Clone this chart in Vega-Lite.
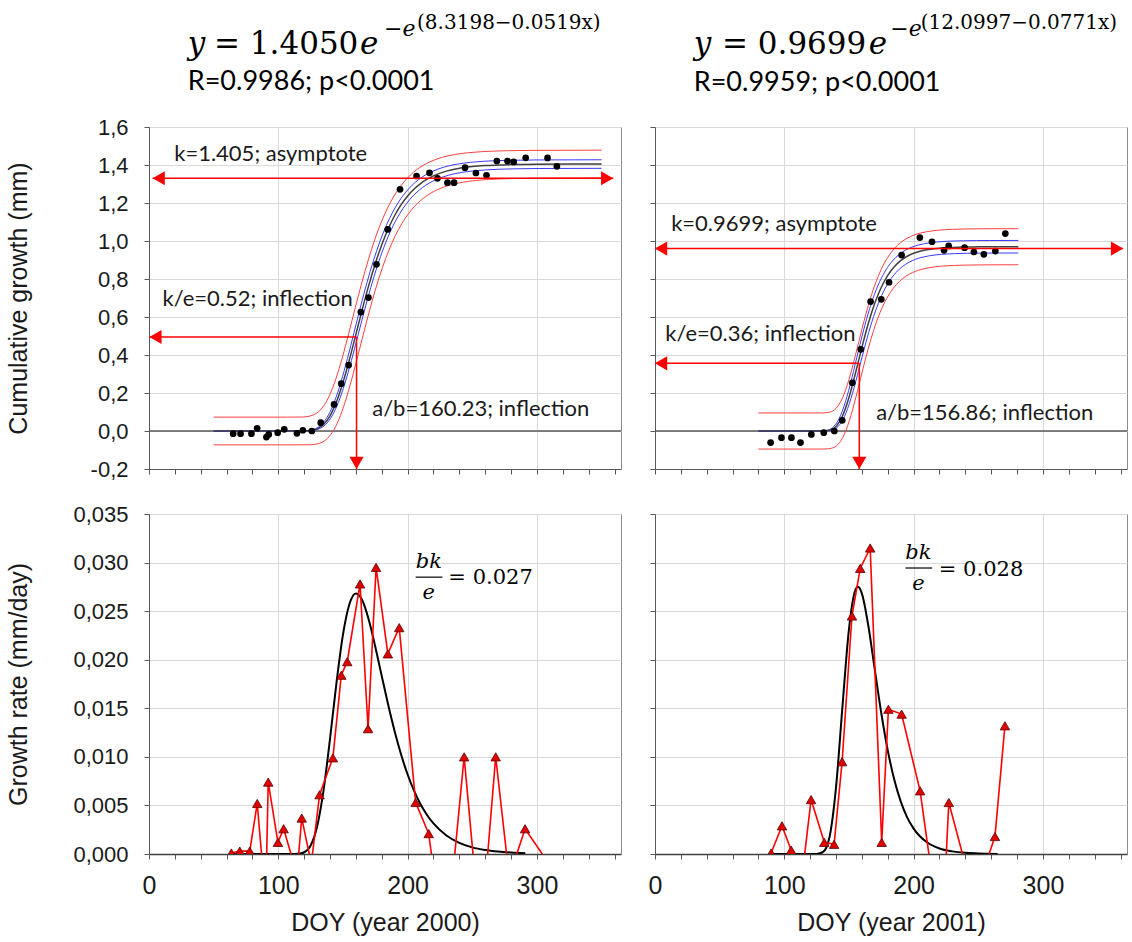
{
"$schema":"https://vega.github.io/schema/vega-lite/v6.json",
"padding":{"left":5,"top":12,"right":0,"bottom":0},
"background":"white",
"columns":2,
"spacing":{"row":45,"column":34},
"bounds":"flush",
"config":{
 "view":{"stroke":"#8c8c8c","strokeWidth":1},
 "axis":{"domainColor":"#595959","tickColor":"#595959","gridColor":"#d9d9d9","gridWidth":1,"labelFont":"Liberation Sans","titleFont":"Liberation Sans","labelColor":"#1a1a1a","titleColor":"#1a1a1a","titleFontWeight":"normal","labelFontSize":22,"titleFontSize":25,"tickSize":5,"labelOverlap":false,"labelFlush":false},
 "text":{"font":"Lato","color":"#1a1a1a"}
},
"datasets":{
 "zero":[{"x":0,"x2":365,"y":0,"y2":0}],
 "cum2000":[{"x":65.1,"y":-0.014},{"x":70.8,"y":-0.014},{"x":79.2,"y":-0.014},{"x":83.6,"y":0.014},{"x":90.8,"y":-0.032},{"x":92.6,"y":-0.018},{"x":99.5,"y":-0.009},{"x":104.6,"y":0.009},{"x":114.4,"y":-0.012},{"x":119,"y":0.004},{"x":125.9,"y":0},{"x":132.8,"y":0.044},{"x":143.1,"y":0.14},{"x":148.7,"y":0.249},{"x":154.4,"y":0.347},{"x":163.8,"y":0.626},{"x":169.7,"y":0.702},{"x":175.9,"y":0.877},{"x":184.6,"y":1.061},{"x":194.1,"y":1.272},{"x":206.9,"y":1.342},{"x":216.9,"y":1.359},{"x":223.1,"y":1.33},{"x":230.8,"y":1.307},{"x":235.9,"y":1.307},{"x":244.4,"y":1.386},{"x":252.8,"y":1.358},{"x":261,"y":1.346},{"x":269,"y":1.421},{"x":277.2,"y":1.421},{"x":282,"y":1.416},{"x":291.3,"y":1.438},{"x":308.2,"y":1.437},{"x":315.4,"y":1.393}],
 "cum2001":[{"x":89.4,"y":-0.061},{"x":97.8,"y":-0.035},{"x":105.5,"y":-0.035},{"x":112.5,"y":-0.061},{"x":120.9,"y":-0.018},{"x":130.5,"y":-0.009},{"x":138.7,"y":0},{"x":144.8,"y":0.056},{"x":152.6,"y":0.254},{"x":159.1,"y":0.43},{"x":166.7,"y":0.681},{"x":175,"y":0.693},{"x":181,"y":0.783},{"x":190.7,"y":0.926},{"x":204.8,"y":1.018},{"x":214.2,"y":0.996},{"x":223.5,"y":0.951},{"x":227.1,"y":0.974},{"x":239.4,"y":0.965},{"x":246.6,"y":0.942},{"x":254.3,"y":0.93},{"x":263.2,"y":0.947},{"x":270.9,"y":1.039}],
 "curve2000":[
  {"s":"fit","x":50,"y":0},{"s":"fit","x":110,"y":0},{"s":"fit","x":120,"y":0.0004},{"s":"fit","x":125,"y":0.0027},{"s":"fit","x":130,"y":0.0113},{"s":"fit","x":135,"y":0.0341},{"s":"fit","x":140,"y":0.0798},{"s":"fit","x":145,"y":0.1537},{"s":"fit","x":150,"y":0.2549},{"s":"fit","x":155,"y":0.3765},{"s":"fit","x":160,"y":0.5087},{"s":"fit","x":165,"y":0.6417},{"s":"fit","x":170,"y":0.7676},{"s":"fit","x":175,"y":0.8813},{"s":"fit","x":180,"y":0.9804},{"s":"fit","x":185,"y":1.0645},{"s":"fit","x":190,"y":1.1342},{"s":"fit","x":195,"y":1.1911},{"s":"fit","x":200,"y":1.2369},{"s":"fit","x":205,"y":1.2735},{"s":"fit","x":210,"y":1.3024},{"s":"fit","x":215,"y":1.3252},{"s":"fit","x":220,"y":1.343},{"s":"fit","x":230,"y":1.3678},{"s":"fit","x":240,"y":1.3827},{"s":"fit","x":250,"y":1.3917},{"s":"fit","x":260,"y":1.3971},{"s":"fit","x":280,"y":1.4022},{"s":"fit","x":300,"y":1.404},{"s":"fit","x":350,"y":1.405},
  {"s":"bu","x":50,"y":0},{"s":"bu","x":108.5,"y":0},{"s":"bu","x":118.5,"y":0.0004},{"s":"bu","x":123.5,"y":0.0027},{"s":"bu","x":128.5,"y":0.0115},{"s":"bu","x":133.5,"y":0.0346},{"s":"bu","x":138.5,"y":0.0811},{"s":"bu","x":143.5,"y":0.1562},{"s":"bu","x":148.5,"y":0.259},{"s":"bu","x":153.5,"y":0.3825},{"s":"bu","x":158.5,"y":0.5168},{"s":"bu","x":163.5,"y":0.652},{"s":"bu","x":168.5,"y":0.7799},{"s":"bu","x":173.5,"y":0.8954},{"s":"bu","x":178.5,"y":0.9961},{"s":"bu","x":183.5,"y":1.0815},{"s":"bu","x":188.5,"y":1.1523},{"s":"bu","x":193.5,"y":1.2102},{"s":"bu","x":198.5,"y":1.2567},{"s":"bu","x":203.5,"y":1.2939},{"s":"bu","x":208.5,"y":1.3232},{"s":"bu","x":213.5,"y":1.3464},{"s":"bu","x":218.5,"y":1.3645},{"s":"bu","x":228.5,"y":1.3897},{"s":"bu","x":238.5,"y":1.4048},{"s":"bu","x":248.5,"y":1.414},{"s":"bu","x":258.5,"y":1.4195},{"s":"bu","x":278.5,"y":1.4246},{"s":"bu","x":298.5,"y":1.4265},{"s":"bu","x":350,"y":1.4275},
  {"s":"bl","x":50,"y":0},{"s":"bl","x":111.5,"y":0},{"s":"bl","x":121.5,"y":0.0004},{"s":"bl","x":126.5,"y":0.0027},{"s":"bl","x":131.5,"y":0.0111},{"s":"bl","x":136.5,"y":0.0336},{"s":"bl","x":141.5,"y":0.0785},{"s":"bl","x":146.5,"y":0.1512},{"s":"bl","x":151.5,"y":0.2508},{"s":"bl","x":156.5,"y":0.3705},{"s":"bl","x":161.5,"y":0.5006},{"s":"bl","x":166.5,"y":0.6314},{"s":"bl","x":171.5,"y":0.7553},{"s":"bl","x":176.5,"y":0.8672},{"s":"bl","x":181.5,"y":0.9647},{"s":"bl","x":186.5,"y":1.0475},{"s":"bl","x":191.5,"y":1.1161},{"s":"bl","x":196.5,"y":1.172},{"s":"bl","x":201.5,"y":1.2171},{"s":"bl","x":206.5,"y":1.2531},{"s":"bl","x":211.5,"y":1.2816},{"s":"bl","x":216.5,"y":1.304},{"s":"bl","x":221.5,"y":1.3215},{"s":"bl","x":231.5,"y":1.3459},{"s":"bl","x":241.5,"y":1.3606},{"s":"bl","x":251.5,"y":1.3694},{"s":"bl","x":261.5,"y":1.3747},{"s":"bl","x":281.5,"y":1.3798},{"s":"bl","x":301.5,"y":1.3815},{"s":"bl","x":350,"y":1.3825},
  {"s":"ru","x":50,"y":0.073},{"s":"ru","x":107,"y":0.073},{"s":"ru","x":117,"y":0.0734},{"s":"ru","x":122,"y":0.0757},{"s":"ru","x":127,"y":0.0843},{"s":"ru","x":132,"y":0.1071},{"s":"ru","x":137,"y":0.1528},{"s":"ru","x":142,"y":0.2267},{"s":"ru","x":147,"y":0.3279},{"s":"ru","x":152,"y":0.4495},{"s":"ru","x":157,"y":0.5817},{"s":"ru","x":162,"y":0.7147},{"s":"ru","x":167,"y":0.8406},{"s":"ru","x":172,"y":0.9543},{"s":"ru","x":177,"y":1.0534},{"s":"ru","x":182,"y":1.1375},{"s":"ru","x":187,"y":1.2072},{"s":"ru","x":192,"y":1.2641},{"s":"ru","x":197,"y":1.3099},{"s":"ru","x":202,"y":1.3465},{"s":"ru","x":207,"y":1.3754},{"s":"ru","x":212,"y":1.3982},{"s":"ru","x":217,"y":1.416},{"s":"ru","x":227,"y":1.4408},{"s":"ru","x":237,"y":1.4557},{"s":"ru","x":247,"y":1.4647},{"s":"ru","x":257,"y":1.4701},{"s":"ru","x":277,"y":1.4752},{"s":"ru","x":297,"y":1.477},{"s":"ru","x":350,"y":1.478},
  {"s":"rl","x":50,"y":-0.073},{"s":"rl","x":113,"y":-0.073},{"s":"rl","x":123,"y":-0.0726},{"s":"rl","x":128,"y":-0.0703},{"s":"rl","x":133,"y":-0.0617},{"s":"rl","x":138,"y":-0.0389},{"s":"rl","x":143,"y":0.0068},{"s":"rl","x":148,"y":0.0807},{"s":"rl","x":153,"y":0.1819},{"s":"rl","x":158,"y":0.3035},{"s":"rl","x":163,"y":0.4357},{"s":"rl","x":168,"y":0.5687},{"s":"rl","x":173,"y":0.6946},{"s":"rl","x":178,"y":0.8083},{"s":"rl","x":183,"y":0.9074},{"s":"rl","x":188,"y":0.9915},{"s":"rl","x":193,"y":1.0612},{"s":"rl","x":198,"y":1.1181},{"s":"rl","x":203,"y":1.1639},{"s":"rl","x":208,"y":1.2005},{"s":"rl","x":213,"y":1.2294},{"s":"rl","x":218,"y":1.2522},{"s":"rl","x":223,"y":1.27},{"s":"rl","x":233,"y":1.2948},{"s":"rl","x":243,"y":1.3097},{"s":"rl","x":253,"y":1.3187},{"s":"rl","x":263,"y":1.3241},{"s":"rl","x":283,"y":1.3292},{"s":"rl","x":303,"y":1.331},{"s":"rl","x":350,"y":1.332}
 ],
 "curve2001":[
  {"s":"fit","x":80,"y":0},{"s":"fit","x":120,"y":0},{"s":"fit","x":125,"y":0},{"s":"fit","x":130,"y":0.0003},{"s":"fit","x":135,"y":0.0043},{"s":"fit","x":140,"y":0.0242},{"s":"fit","x":145,"y":0.0788},{"s":"fit","x":150,"y":0.176},{"s":"fit","x":155,"y":0.3038},{"s":"fit","x":160,"y":0.4404},{"s":"fit","x":165,"y":0.5669},{"s":"fit","x":170,"y":0.6732},{"s":"fit","x":175,"y":0.7566},{"s":"fit","x":180,"y":0.8191},{"s":"fit","x":185,"y":0.8646},{"s":"fit","x":190,"y":0.897},{"s":"fit","x":195,"y":0.9197},{"s":"fit","x":200,"y":0.9355},{"s":"fit","x":205,"y":0.9464},{"s":"fit","x":210,"y":0.9538},{"s":"fit","x":220,"y":0.9624},{"s":"fit","x":230,"y":0.9664},{"s":"fit","x":240,"y":0.9683},{"s":"fit","x":250,"y":0.9692},{"s":"fit","x":260,"y":0.9696},{"s":"fit","x":281,"y":0.9698},
  {"s":"bu","x":80,"y":0},{"s":"bu","x":118.5,"y":0},{"s":"bu","x":123.5,"y":0},{"s":"bu","x":128.5,"y":0.0003},{"s":"bu","x":133.5,"y":0.0044},{"s":"bu","x":138.5,"y":0.025},{"s":"bu","x":143.5,"y":0.0815},{"s":"bu","x":148.5,"y":0.182},{"s":"bu","x":153.5,"y":0.3141},{"s":"bu","x":158.5,"y":0.4554},{"s":"bu","x":163.5,"y":0.5862},{"s":"bu","x":168.5,"y":0.6961},{"s":"bu","x":173.5,"y":0.7823},{"s":"bu","x":178.5,"y":0.8469},{"s":"bu","x":183.5,"y":0.894},{"s":"bu","x":188.5,"y":0.9275},{"s":"bu","x":193.5,"y":0.951},{"s":"bu","x":198.5,"y":0.9673},{"s":"bu","x":203.5,"y":0.9786},{"s":"bu","x":208.5,"y":0.9862},{"s":"bu","x":218.5,"y":0.9951},{"s":"bu","x":228.5,"y":0.9993},{"s":"bu","x":238.5,"y":1.0012},{"s":"bu","x":248.5,"y":1.0022},{"s":"bu","x":258.5,"y":1.0026},{"s":"bu","x":281,"y":1.0028},
  {"s":"bl","x":80,"y":0},{"s":"bl","x":121.5,"y":0},{"s":"bl","x":126.5,"y":0},{"s":"bl","x":131.5,"y":0.0003},{"s":"bl","x":136.5,"y":0.0042},{"s":"bl","x":141.5,"y":0.0234},{"s":"bl","x":146.5,"y":0.0761},{"s":"bl","x":151.5,"y":0.17},{"s":"bl","x":156.5,"y":0.2935},{"s":"bl","x":161.5,"y":0.4254},{"s":"bl","x":166.5,"y":0.5476},{"s":"bl","x":171.5,"y":0.6503},{"s":"bl","x":176.5,"y":0.7309},{"s":"bl","x":181.5,"y":0.7913},{"s":"bl","x":186.5,"y":0.8352},{"s":"bl","x":191.5,"y":0.8665},{"s":"bl","x":196.5,"y":0.8884},{"s":"bl","x":201.5,"y":0.9037},{"s":"bl","x":206.5,"y":0.9142},{"s":"bl","x":211.5,"y":0.9214},{"s":"bl","x":221.5,"y":0.9297},{"s":"bl","x":231.5,"y":0.9336},{"s":"bl","x":241.5,"y":0.9354},{"s":"bl","x":251.5,"y":0.9362},{"s":"bl","x":261.5,"y":0.9366},{"s":"bl","x":281,"y":0.9368},
  {"s":"ru","x":80,"y":0.095},{"s":"ru","x":120,"y":0.095},{"s":"ru","x":125,"y":0.095},{"s":"ru","x":130,"y":0.0953},{"s":"ru","x":135,"y":0.0993},{"s":"ru","x":140,"y":0.1192},{"s":"ru","x":145,"y":0.1738},{"s":"ru","x":150,"y":0.271},{"s":"ru","x":155,"y":0.3988},{"s":"ru","x":160,"y":0.5354},{"s":"ru","x":165,"y":0.6619},{"s":"ru","x":170,"y":0.7682},{"s":"ru","x":175,"y":0.8516},{"s":"ru","x":180,"y":0.9141},{"s":"ru","x":185,"y":0.9596},{"s":"ru","x":190,"y":0.992},{"s":"ru","x":195,"y":1.0147},{"s":"ru","x":200,"y":1.0305},{"s":"ru","x":205,"y":1.0414},{"s":"ru","x":210,"y":1.0488},{"s":"ru","x":220,"y":1.0574},{"s":"ru","x":230,"y":1.0614},{"s":"ru","x":240,"y":1.0633},{"s":"ru","x":250,"y":1.0642},{"s":"ru","x":260,"y":1.0646},{"s":"ru","x":281,"y":1.0648},
  {"s":"rl","x":80,"y":-0.095},{"s":"rl","x":121.5,"y":-0.095},{"s":"rl","x":126.5,"y":-0.095},{"s":"rl","x":131.5,"y":-0.0947},{"s":"rl","x":136.5,"y":-0.0907},{"s":"rl","x":141.5,"y":-0.0708},{"s":"rl","x":146.5,"y":-0.0162},{"s":"rl","x":151.5,"y":0.081},{"s":"rl","x":156.5,"y":0.2088},{"s":"rl","x":161.5,"y":0.3454},{"s":"rl","x":166.5,"y":0.4719},{"s":"rl","x":171.5,"y":0.5782},{"s":"rl","x":176.5,"y":0.6616},{"s":"rl","x":181.5,"y":0.7241},{"s":"rl","x":186.5,"y":0.7696},{"s":"rl","x":191.5,"y":0.802},{"s":"rl","x":196.5,"y":0.8247},{"s":"rl","x":201.5,"y":0.8405},{"s":"rl","x":206.5,"y":0.8514},{"s":"rl","x":211.5,"y":0.8588},{"s":"rl","x":221.5,"y":0.8674},{"s":"rl","x":231.5,"y":0.8714},{"s":"rl","x":241.5,"y":0.8733},{"s":"rl","x":251.5,"y":0.8742},{"s":"rl","x":261.5,"y":0.8746},{"s":"rl","x":281,"y":0.8748}
 ],
 "arrows2000":[{"x":2.8,"x2":359,"y":1.33,"y2":1.33},{"x":0.3,"x2":160.5,"y":0.495,"y2":0.495},{"x":160.5,"x2":160.5,"y":0.495,"y2":-0.2}],
 "heads2000":[{"x":7.5,"y":1.33,"dir":"left"},{"x":354.3,"y":1.33,"dir":"right"},{"x":5,"y":0.495,"dir":"left"},{"x":160.5,"y":-0.168,"dir":"down"}],
 "arrows2001":[{"x":0,"x2":362,"y":0.96,"y2":0.96},{"x":0,"x2":158,"y":0.356,"y2":0.356},{"x":158,"x2":158,"y":0.356,"y2":-0.2}],
 "heads2001":[{"x":4.7,"y":0.96,"dir":"left"},{"x":357.3,"y":0.96,"dir":"right"},{"x":4.7,"y":0.356,"dir":"left"},{"x":158,"y":-0.168,"dir":"down"}],
 "notes2000":[{"x":19.5,"y":1.46,"t":"k=1.405; asymptote"},{"x":10.5,"y":0.696,"t":"k/e=0.52; inflection"},{"x":172.6,"y":0.117,"t":"a/b=160.23; inflection"}],
 "notes2001":[{"x":12.5,"y":1.088,"t":"k=0.9699; asymptote"},{"x":8,"y":0.512,"t":"k/e=0.36; inflection"},{"x":171,"y":0.096,"t":"a/b=156.86; inflection"}],
 "eq2000":[{"part":"it","x":30,"y":1.984,"t":"y"},{"part":"it","x":163.2,"y":1.984,"t":"e"},{"part":"coef","x":50.3,"y":1.984,"t":"= 1.4050"},{"part":"exp1","x":181.7,"y":2.079,"t":"−e"},{"part":"exp2","x":207.3,"y":2.116,"t":"(8.3198−0.0519x)"},{"part":"stat","x":30,"y":1.795,"t":"R=0.9986; p<0.0001"}],
 "eq2001":[{"part":"it","x":30,"y":1.984,"t":"y"},{"part":"it","x":165.3,"y":1.984,"t":"e"},{"part":"coef","x":51.8,"y":1.984,"t":"= 0.9699"},{"part":"exp1","x":182,"y":2.079,"t":"−e"},{"part":"exp2","x":205.5,"y":2.116,"t":"(12.0997−0.0771x)"},{"part":"stat","x":30,"y":1.789,"t":"R=0.9959; p<0.0001"}],
 "rate2000":[{"x":63.7,"y":0.0001},{"x":70.2,"y":0.0003},{"x":77.9,"y":0.0003},{"x":83.7,"y":0.0052},{"x":90.2,"y":-0.005},{"x":92.2,"y":0.0074},{"x":99.7,"y":0.0012},{"x":104.1,"y":0.0026},{"x":114.4,"y":-0.0021},{"x":118.1,"y":0.0037},{"x":125.5,"y":-0.001},{"x":131.9,"y":0.0061},{"x":142.2,"y":0.0099},{"x":148.7,"y":0.0184},{"x":153.3,"y":0.0198},{"x":163.2,"y":0.0278},{"x":169.4,"y":0.0129},{"x":175.6,"y":0.0295},{"x":184.7,"y":0.0206},{"x":193.5,"y":0.0233},{"x":206.2,"y":0.0053},{"x":216.3,"y":0.0021},{"x":223.1,"y":-0.0047},{"x":230.8,"y":-0.003},{"x":235.9,"y":-0.0008},{"x":243.7,"y":0.01},{"x":252.8,"y":-0.0033},{"x":261,"y":-0.0015},{"x":268.1,"y":0.01},{"x":277.2,"y":-0.0008},{"x":282,"y":-0.001},{"x":290.8,"y":0.0026},{"x":308.2,"y":-0.0008},{"x":315.4,"y":-0.0061}],
 "rate2001":[{"x":89.8,"y":0.0001},{"x":98.2,"y":0.0029},{"x":105.3,"y":0.0004},{"x":112.5,"y":-0.0037},{"x":120.7,"y":0.0056},{"x":130.9,"y":0.0012},{"x":138.5,"y":0.001},{"x":144.7,"y":0.0095},{"x":152.3,"y":0.0245},{"x":158.7,"y":0.0294},{"x":166.4,"y":0.0315},{"x":175.3,"y":0.0012},{"x":180.5,"y":0.0149},{"x":190.7,"y":0.0144},{"x":205,"y":0.0065},{"x":214.2,"y":-0.0023},{"x":223.5,"y":-0.0048},{"x":227.2,"y":0.0053},{"x":239.4,"y":-0.0008},{"x":246.6,"y":-0.0032},{"x":254.3,"y":-0.0016},{"x":262.9,"y":0.0018},{"x":270.6,"y":0.0132}],
 "rfit2000":[{"x":63,"y":0},{"x":100,"y":0},{"x":110,"y":0},{"x":115,"y":0.00002},{"x":120,"y":0.00018},{"x":125,"y":0.00088},{"x":130,"y":0.00284},{"x":135,"y":0.00658},{"x":140,"y":0.01188},{"x":145,"y":0.01765},{"x":150,"y":0.02258},{"x":155,"y":0.02573},{"x":160,"y":0.02682},{"x":165,"y":0.0261},{"x":170,"y":0.02409},{"x":175,"y":0.02133},{"x":180,"y":0.01831},{"x":185,"y":0.01534},{"x":190,"y":0.01261},{"x":195,"y":0.01021},{"x":200,"y":0.00818},{"x":205,"y":0.0065},{"x":210,"y":0.00513},{"x":215,"y":0.00402},{"x":220,"y":0.00315},{"x":230,"y":0.00191},{"x":240,"y":0.00115},{"x":250,"y":0.00068},{"x":260,"y":0.00041},{"x":270,"y":0.00025},{"x":280,"y":0.00015},{"x":291,"y":0.00008}],
 "rfit2001":[{"x":90,"y":0},{"x":120,"y":0},{"x":125,"y":0.00001},{"x":130,"y":0.00021},{"x":135,"y":0.00178},{"x":140,"y":0.00689},{"x":145,"y":0.01525},{"x":150,"y":0.02316},{"x":155,"y":0.02719},{"x":157,"y":0.02751},{"x":160,"y":0.02681},{"x":165,"y":0.02347},{"x":170,"y":0.01895},{"x":175,"y":0.01449},{"x":180,"y":0.01067},{"x":185,"y":0.00766},{"x":190,"y":0.00541},{"x":195,"y":0.00377},{"x":200,"y":0.00261},{"x":210,"y":0.00123},{"x":220,"y":0.00057},{"x":230,"y":0.00027},{"x":240,"y":0.00012},{"x":250,"y":0.00006},{"x":265,"y":0.00001}],
 "frac2000":[{"part":"it","x":216.4,"y":0.02944,"t":"bk"},{"part":"it","x":216.4,"y":0.02622,"t":"e"},{"part":"eq","x":231.5,"y":0.02778,"t":"= 0.027"}],
 "bar2000":[{"x":206.2,"x2":226.9,"y":0.0285,"y2":0.0285}],
 "frac2001":[{"part":"it","x":203.7,"y":0.03036,"t":"bk"},{"part":"it","x":203.7,"y":0.02713,"t":"e"},{"part":"eq","x":219.5,"y":0.02866,"t":"= 0.028"}],
 "bar2001":[{"x":193.7,"x2":214.4,"y":0.02944,"y2":0.02944}]
},
"concat":[
 {
  "width":472,"height":342,
  "encoding":{
   "x":{"field":"x","type":"quantitative","scale":{"domain":[0,365],"nice":false,"zero":false},
        "axis":{"values":[0,20,40,60,80,100,120,140,160,180,200,220,240,260,280,300,320,340,360],"labels":false,"title":null,"grid":true,"gridOpacity":{"condition":{"test":"datum.value % 100 === 0","value":1},"value":0}}},
   "y":{"field":"y","type":"quantitative","scale":{"domain":[-0.2,1.6],"nice":false,"zero":false},
        "axis":{"title":"Cumulative growth (mm)","values":[-0.2,0,0.2,0.4,0.6,0.8,1,1.2,1.4,1.6],"format":".1f","labelExpr":"replace(replace(datum.label, '.', ','), '−', '-')","labelPadding":16,"minExtent":78,"maxExtent":78,"titlePadding":40,"grid":true}}
  },
  "layer":[
   {"data":{"name":"zero"},"mark":{"type":"rule","color":"#595959","strokeWidth":1.5},"encoding":{"x2":{"field":"x2"},"y2":{"field":"y2"}}},
   {"data":{"name":"curve2000"},"transform":[{"filter":"datum.s !== 'fit'"}],"mark":{"type":"line","strokeWidth":1,"interpolate":"monotone"},"encoding":{"color":{"field":"s","type":"nominal","scale":{"domain":["bu","bl","ru","rl"],"range":["#3a3aff","#3a3aff","#ff4040","#ff4040"]},"legend":null}}},
   {"data":{"name":"curve2000"},"transform":[{"filter":"datum.s === 'fit'"}],"mark":{"type":"line","strokeWidth":1.5,"color":"#404040","interpolate":"monotone"}},
   {"data":{"name":"cum2000"},"mark":{"type":"circle","size":45,"color":"#000","opacity":1}},
   {"data":{"name":"arrows2000"},"mark":{"type":"rule","color":"#ff0000","strokeWidth":1.5},"encoding":{"x2":{"field":"x2"},"y2":{"field":"y2"}}},
   {"data":{"name":"heads2000"},"mark":{"type":"point","filled":true,"color":"#ff0000","opacity":1,"size":200},"encoding":{"shape":{"field":"dir","type":"nominal","scale":{"domain":["left","right","down"],"range":["triangle-left","triangle-right","triangle-down"]},"legend":null}}},
   {"data":{"name":"notes2000"},"mark":{"type":"text","fontSize":22,"align":"left","baseline":"middle"},"encoding":{"text":{"field":"t"}}},
   {"data":{"name":"eq2000"},"transform":[{"filter":"datum.part === 'it'"}],"mark":{"type":"text","font":"DejaVu Serif","fontStyle":"italic","fontSize":31,"align":"left","baseline":"alphabetic","color":"#000"},"encoding":{"text":{"field":"t"}}},
   {"data":{"name":"eq2000"},"transform":[{"filter":"datum.part === 'coef'"}],"mark":{"type":"text","font":"DejaVu Serif","fontSize":31,"align":"left","baseline":"alphabetic","color":"#000"},"encoding":{"text":{"field":"t"}}},
   {"data":{"name":"eq2000"},"transform":[{"filter":"datum.part === 'exp1'"}],"mark":{"type":"text","font":"DejaVu Serif","fontStyle":"italic","fontSize":22,"align":"left","baseline":"alphabetic","color":"#000"},"encoding":{"text":{"field":"t"}}},
   {"data":{"name":"eq2000"},"transform":[{"filter":"datum.part === 'exp2'"}],"mark":{"type":"text","font":"DejaVu Serif","fontSize":20,"align":"left","baseline":"alphabetic","color":"#000"},"encoding":{"text":{"field":"t"}}},
   {"data":{"name":"eq2000"},"transform":[{"filter":"datum.part === 'stat'"}],"mark":{"type":"text","fontSize":27,"align":"left","baseline":"alphabetic","color":"#000"},"encoding":{"text":{"field":"t"}}}
  ]
 },
 {
  "width":472,"height":342,
  "encoding":{
   "x":{"field":"x","type":"quantitative","scale":{"domain":[0,365],"nice":false,"zero":false},
        "axis":{"values":[0,20,40,60,80,100,120,140,160,180,200,220,240,260,280,300,320,340,360],"labels":false,"title":null,"grid":true,"gridOpacity":{"condition":{"test":"datum.value % 100 === 0","value":1},"value":0}}},
   "y":{"field":"y","type":"quantitative","scale":{"domain":[-0.2,1.6],"nice":false,"zero":false},
        "axis":{"title":null,"labels":false,"values":[-0.2,0,0.2,0.4,0.6,0.8,1,1.2,1.4,1.6],"grid":true}}
  },
  "layer":[
   {"data":{"name":"zero"},"mark":{"type":"rule","color":"#595959","strokeWidth":1.5},"encoding":{"x2":{"field":"x2"},"y2":{"field":"y2"}}},
   {"data":{"name":"curve2001"},"transform":[{"filter":"datum.s !== 'fit'"}],"mark":{"type":"line","strokeWidth":1,"interpolate":"monotone"},"encoding":{"color":{"field":"s","type":"nominal","scale":{"domain":["bu","bl","ru","rl"],"range":["#3a3aff","#3a3aff","#ff4040","#ff4040"]},"legend":null}}},
   {"data":{"name":"curve2001"},"transform":[{"filter":"datum.s === 'fit'"}],"mark":{"type":"line","strokeWidth":1.5,"color":"#404040","interpolate":"monotone"}},
   {"data":{"name":"cum2001"},"mark":{"type":"circle","size":45,"color":"#000","opacity":1}},
   {"data":{"name":"arrows2001"},"mark":{"type":"rule","color":"#ff0000","strokeWidth":1.5},"encoding":{"x2":{"field":"x2"},"y2":{"field":"y2"}}},
   {"data":{"name":"heads2001"},"mark":{"type":"point","filled":true,"color":"#ff0000","opacity":1,"size":200},"encoding":{"shape":{"field":"dir","type":"nominal","scale":{"domain":["left","right","down"],"range":["triangle-left","triangle-right","triangle-down"]},"legend":null}}},
   {"data":{"name":"notes2001"},"mark":{"type":"text","fontSize":22,"align":"left","baseline":"middle"},"encoding":{"text":{"field":"t"}}},
   {"data":{"name":"eq2001"},"transform":[{"filter":"datum.part === 'it'"}],"mark":{"type":"text","font":"DejaVu Serif","fontStyle":"italic","fontSize":31,"align":"left","baseline":"alphabetic","color":"#000"},"encoding":{"text":{"field":"t"}}},
   {"data":{"name":"eq2001"},"transform":[{"filter":"datum.part === 'coef'"}],"mark":{"type":"text","font":"DejaVu Serif","fontSize":31,"align":"left","baseline":"alphabetic","color":"#000"},"encoding":{"text":{"field":"t"}}},
   {"data":{"name":"eq2001"},"transform":[{"filter":"datum.part === 'exp1'"}],"mark":{"type":"text","font":"DejaVu Serif","fontStyle":"italic","fontSize":22,"align":"left","baseline":"alphabetic","color":"#000"},"encoding":{"text":{"field":"t"}}},
   {"data":{"name":"eq2001"},"transform":[{"filter":"datum.part === 'exp2'"}],"mark":{"type":"text","font":"DejaVu Serif","fontSize":20,"align":"left","baseline":"alphabetic","color":"#000"},"encoding":{"text":{"field":"t"}}},
   {"data":{"name":"eq2001"},"transform":[{"filter":"datum.part === 'stat'"}],"mark":{"type":"text","fontSize":27,"align":"left","baseline":"alphabetic","color":"#000"},"encoding":{"text":{"field":"t"}}}
  ]
 },
 {
  "width":472,"height":340,
  "encoding":{
   "x":{"field":"x","type":"quantitative","scale":{"domain":[0,365],"nice":false,"zero":false},
        "axis":{"title":"DOY (year 2000)","values":[0,20,40,60,80,100,120,140,160,180,200,220,240,260,280,300,320,340,360],"labelExpr":"datum.value % 100 === 0 ? datum.label : ''","labelFontSize":25,"labelPadding":14,"titlePadding":12,"grid":true,"gridOpacity":{"condition":{"test":"datum.value % 100 === 0","value":1},"value":0},"domainColor":"#404040","domainWidth":1.5}},
   "y":{"field":"y","type":"quantitative","scale":{"domain":[0,0.035],"nice":false,"zero":false},
        "axis":{"title":"Growth rate (mm/day)","values":[0,0.005,0.01,0.015,0.02,0.025,0.03,0.035],"format":".3f","labelExpr":"replace(replace(datum.label, '.', ','), '−', '-')","labelPadding":16,"minExtent":78,"maxExtent":78,"titlePadding":40,"grid":true}}
  },
  "layer":[
   {"data":{"name":"rfit2000"},"mark":{"type":"line","color":"#000","strokeWidth":2,"interpolate":"monotone","clip":true}},
   {"data":{"name":"rate2000"},"mark":{"type":"line","color":"#ff0000","strokeWidth":1.6,"clip":true}},
   {"data":{"name":"rate2000"},"mark":{"type":"point","shape":"triangle-up","filled":true,"color":"#e00000","stroke":"#5a0000","strokeWidth":0.8,"opacity":1,"size":90,"clip":true}},
   {"data":{"name":"bar2000"},"mark":{"type":"rule","color":"#000","strokeWidth":1.2},"encoding":{"x2":{"field":"x2"},"y2":{"field":"y2"}}},
   {"data":{"name":"frac2000"},"transform":[{"filter":"datum.part === 'it'"}],"mark":{"type":"text","font":"DejaVu Serif","fontStyle":"italic","fontSize":21,"align":"center","baseline":"alphabetic","color":"#000"},"encoding":{"text":{"field":"t"}}},
   {"data":{"name":"frac2000"},"transform":[{"filter":"datum.part === 'eq'"}],"mark":{"type":"text","font":"DejaVu Serif","fontSize":21,"align":"left","baseline":"alphabetic","color":"#000"},"encoding":{"text":{"field":"t"}}}
  ]
 },
 {
  "width":472,"height":340,
  "encoding":{
   "x":{"field":"x","type":"quantitative","scale":{"domain":[0,365],"nice":false,"zero":false},
        "axis":{"title":"DOY (year 2001)","values":[0,20,40,60,80,100,120,140,160,180,200,220,240,260,280,300,320,340,360],"labelExpr":"datum.value % 100 === 0 ? datum.label : ''","labelFontSize":25,"labelPadding":14,"titlePadding":12,"grid":true,"gridOpacity":{"condition":{"test":"datum.value % 100 === 0","value":1},"value":0},"domainColor":"#404040","domainWidth":1.5}},
   "y":{"field":"y","type":"quantitative","scale":{"domain":[0,0.035],"nice":false,"zero":false},
        "axis":{"title":null,"labels":false,"values":[0,0.005,0.01,0.015,0.02,0.025,0.03,0.035],"grid":true}}
  },
  "layer":[
   {"data":{"name":"rfit2001"},"mark":{"type":"line","color":"#000","strokeWidth":2,"interpolate":"monotone","clip":true}},
   {"data":{"name":"rate2001"},"mark":{"type":"line","color":"#ff0000","strokeWidth":1.6,"clip":true}},
   {"data":{"name":"rate2001"},"mark":{"type":"point","shape":"triangle-up","filled":true,"color":"#e00000","stroke":"#5a0000","strokeWidth":0.8,"opacity":1,"size":90,"clip":true}},
   {"data":{"name":"bar2001"},"mark":{"type":"rule","color":"#000","strokeWidth":1.2},"encoding":{"x2":{"field":"x2"},"y2":{"field":"y2"}}},
   {"data":{"name":"frac2001"},"transform":[{"filter":"datum.part === 'it'"}],"mark":{"type":"text","font":"DejaVu Serif","fontStyle":"italic","fontSize":21,"align":"center","baseline":"alphabetic","color":"#000"},"encoding":{"text":{"field":"t"}}},
   {"data":{"name":"frac2001"},"transform":[{"filter":"datum.part === 'eq'"}],"mark":{"type":"text","font":"DejaVu Serif","fontSize":21,"align":"left","baseline":"alphabetic","color":"#000"},"encoding":{"text":{"field":"t"}}}
  ]
 }
]
}
